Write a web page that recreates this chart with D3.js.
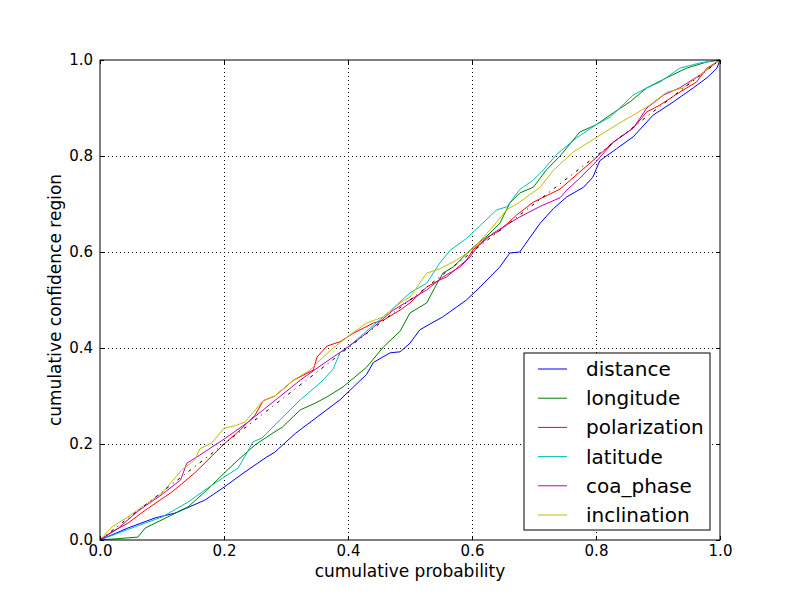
<!DOCTYPE html>
<html>
<head>
  <meta charset="utf-8">
  <title>Cumulative confidence region</title>
  <script src="https://d3js.org/d3.v7.min.js"></script>
  <style>
    body { margin: 0; background: #fff; }
    svg text { font-family: "DejaVu Sans", sans-serif; fill: #000; }
    .grid line { stroke: #000; stroke-width: 1; stroke-dasharray: 1,3; }
  </style>
</head>
<body>
<div id="chart"></div>
<script>
// series names and colours
var names = ["distance", "longitude", "polarization", "latitude", "coa_phase", "inclination"];
var colors = ["#0000ff", "#008000", "#ff0000", "#00bfbf", "#bf00bf", "#bfbf00"];

// points: [cumulative probability, cumulative confidence region]
var distance = [[0,0],[.045,.025],[.089,.046],[.121,.056],[.169,.083],[.2,.11],[.234,.142],[.269,.173],[.282,.183],
  [.315,.222],[.35,.256],[.387,.292],[.409,.319],[.43,.345],[.441,.37],[.468,.39],[.484,.392],[.5,.41],[.516,.438],
  [.553,.465],[.591,.5],[.613,.527],[.645,.569],[.661,.598],[.677,.6],[.694,.631],[.71,.66],[.731,.69],[.753,.715],
  [.78,.735],[.795,.756],[.806,.79],[.833,.815],[.86,.84],[.892,.885],[.925,.913],[.957,.942],[.979,.963],[.995,.983],[1,1]];
var longitude = [[0,0],[.061,.006],[.073,.025],[.1,.042],[.142,.069],[.169,.1],[.2,.139],[.223,.167],[.25,.198],
  [.279,.223],[.294,.235],[.323,.271],[.347,.285],[.366,.298],[.392,.319],[.43,.36],[.457,.402],[.484,.435],[.5,.473],
  [.527,.494],[.538,.521],[.553,.556],[.57,.569],[.602,.61],[.624,.633],[.645,.66],[.661,.702],[.677,.723],[.699,.735],
  [.72,.771],[.742,.8],[.763,.833],[.774,.85],[.8,.865],[.828,.89],[.855,.913],[.882,.942],[.914,.963],[.946,.983],[.979,.996],[1,1]];
var polarization = [[0,0],[.019,.017],[.045,.035],[.073,.062],[.116,.1],[.153,.14],[.2,.2],[.226,.229],[.25,.26],
  [.263,.29],[.282,.3],[.312,.333],[.344,.354],[.35,.381],[.366,.404],[.387,.413],[.409,.431],[.441,.452],[.457,.458],
  [.484,.479],[.5,.494],[.527,.527],[.548,.542],[.559,.548],[.591,.583],[.602,.605],[.624,.63],[.645,.645],[.672,.677],
  [.699,.704],[.742,.731],[.774,.767],[.8,.796],[.828,.829],[.86,.858],[.882,.892],[.903,.906],[.935,.933],[.962,.954],[.979,.983],[1,1]];
var latitude = [[0,0],[.045,.022],[.1,.048],[.142,.079],[.169,.104],[.2,.131],[.223,.15],[.247,.205],[.261,.212],
  [.29,.25],[.323,.292],[.355,.327],[.376,.356],[.387,.39],[.4,.402],[.43,.435],[.457,.465],[.473,.483],[.5,.515],
  [.527,.535],[.548,.577],[.565,.604],[.591,.628],[.613,.655],[.64,.688],[.656,.694],[.677,.73],[.699,.75],[.715,.771],
  [.737,.804],[.769,.838],[.8,.865],[.823,.881],[.86,.927],[.882,.942],[.903,.954],[.935,.983],[.968,.994],[1,1]];
var coa_phase = [[0,0],[.03,.025],[.061,.06],[.1,.095],[.13,.125],[.14,.16],[.161,.177],[.2,.21],[.237,.244],
  [.269,.277],[.323,.333],[.35,.358],[.376,.381],[.4,.402],[.43,.431],[.473,.479],[.5,.5],[.527,.521],[.553,.548],
  [.581,.569],[.597,.59],[.608,.61],[.634,.639],[.65,.652],[.677,.673],[.71,.695],[.742,.713],[.753,.729],[.774,.754],
  [.8,.788],[.828,.829],[.86,.858],[.882,.9],[.909,.927],[.935,.942],[.968,.969],[1,1]];
var inclination = [[0,0],[.019,.027],[.045,.048],[.077,.077],[.1,.098],[.132,.146],[.153,.167],[.161,.19],[.18,.202],
  [.2,.233],[.218,.238],[.234,.246],[.263,.29],[.282,.3],[.312,.333],[.339,.354],[.355,.375],[.376,.4],[.403,.427],
  [.43,.452],[.457,.465],[.484,.494],[.5,.506],[.527,.556],[.548,.565],[.575,.583],[.602,.607],[.629,.646],[.656,.688],
  [.677,.704],[.71,.735],[.731,.77],[.763,.808],[.8,.838],[.833,.865],[.86,.885],[.887,.906],[.914,.933],[.941,.942],
  [.968,.969],[.989,.99],[1,1]];
var diagonal = [[0,0],[1,1]];

var tickValues = [0, 0.2, 0.4, 0.6, 0.8, 1.0];
var seriesData = [distance, longitude, polarization, latitude, coa_phase, inclination];

var margin = { top: 60, right: 80, bottom: 60, left: 100 };
var width = 800 - margin.left - margin.right;
var height = 600 - margin.top - margin.bottom;

var svg = d3.select("#chart")
  .append("svg")
  .attr("width", 800)
  .attr("height", 600)
  .append("g")
  .attr("transform", "translate(" + margin.left + "," + margin.top + ")");

var xScale = d3.scaleLinear().domain([0, 1]).range([0, width]);
var yScale = d3.scaleLinear().domain([0, 1]).range([height, 0]);

// dotted grid
var grid = svg.append("g").attr("class", "grid");
grid.selectAll(".gx")
  .data(tickValues.slice(1, -1))
  .enter().append("line")
  .attr("x1", function(d) { return Math.round(xScale(d)) + 0.5; })
  .attr("x2", function(d) { return Math.round(xScale(d)) + 0.5; })
  .attr("y1", 0).attr("y2", height);
grid.selectAll(".gy")
  .data(tickValues.slice(1, -1))
  .enter().append("line")
  .attr("y1", function(d) { return Math.round(yScale(d)) + 0.5; })
  .attr("y2", function(d) { return Math.round(yScale(d)) + 0.5; })
  .attr("x1", 0).attr("x2", width);

var line = d3.line()
  .x(function(d) { return xScale(d[0]); })
  .y(function(d) { return yScale(d[1]); });

// series lines
seriesData.forEach(function(s, i) {
  svg.append("path")
    .datum(s)
    .attr("d", line)
    .attr("fill", "none")
    .attr("stroke", colors[i])
    .attr("stroke-width", 1);
});

// y = x reference
svg.append("path")
  .datum(diagonal)
  .attr("d", line)
  .attr("fill", "none")
  .attr("stroke", "#000")
  .attr("stroke-width", 1)
  .attr("stroke-dasharray", "3,5,1,5");

// axes: ticks pointing inward on all four sides
var fmt = d3.format(".1f");
var xAxis = svg.append("g")
  .attr("transform", "translate(0," + height + ")")
  .call(d3.axisBottom(xScale).tickValues(tickValues).tickFormat(fmt).tickSizeInner(-4).tickSizeOuter(0).tickPadding(5));
var yAxis = svg.append("g")
  .call(d3.axisLeft(yScale).tickValues(tickValues).tickFormat(fmt).tickSizeInner(-4).tickSizeOuter(0).tickPadding(7));
var xTop = svg.append("g")
  .call(d3.axisTop(xScale).tickValues(tickValues).tickFormat("").tickSizeInner(-4).tickSizeOuter(0));
var yRight = svg.append("g")
  .attr("transform", "translate(" + width + ",0)")
  .call(d3.axisRight(yScale).tickValues(tickValues).tickFormat("").tickSizeInner(-4).tickSizeOuter(0));

[xAxis, yAxis, xTop, yRight].forEach(function(a) {
  a.select(".domain").remove();
  a.selectAll("text").style("font-size", "15px").attr("fill", "#000");
  a.selectAll("line").attr("stroke", "#000");
});
xAxis.selectAll("text").attr("dy", "0.71em");

// frame
svg.append("rect")
  .attr("x", 0).attr("y", 0)
  .attr("width", width).attr("height", height)
  .attr("fill", "none")
  .attr("stroke", "#000")
  .attr("stroke-width", 1);

// axis labels
svg.append("text")
  .attr("x", width / 2)
  .attr("y", height + 37)
  .attr("text-anchor", "middle")
  .style("font-size", "17px")
  .text("cumulative probability");

svg.append("text")
  .attr("transform", "translate(-39," + height / 2 + ") rotate(-90)")
  .attr("text-anchor", "middle")
  .style("font-size", "17px")
  .text("cumulative confidence region");

// legend
var legend = svg.append("g")
  .attr("transform", "translate(" + (width - 196) + "," + (height - 187) + ")");
legend.append("rect")
  .attr("width", 186).attr("height", 177)
  .attr("fill", "#fff")
  .attr("stroke", "#000")
  .attr("stroke-width", 1);
names.forEach(function(n, i) {
  var y = 16 + i * 29.2;
  legend.append("line")
    .attr("x1", 14).attr("x2", 43)
    .attr("y1", y).attr("y2", y)
    .attr("stroke", colors[i])
    .attr("stroke-width", 1);
  legend.append("text")
    .attr("x", 62)
    .attr("y", y)
    .attr("dy", "0.35em")
    .style("font-size", "20px")
    .text(n);
});
</script>
</body>
</html>
